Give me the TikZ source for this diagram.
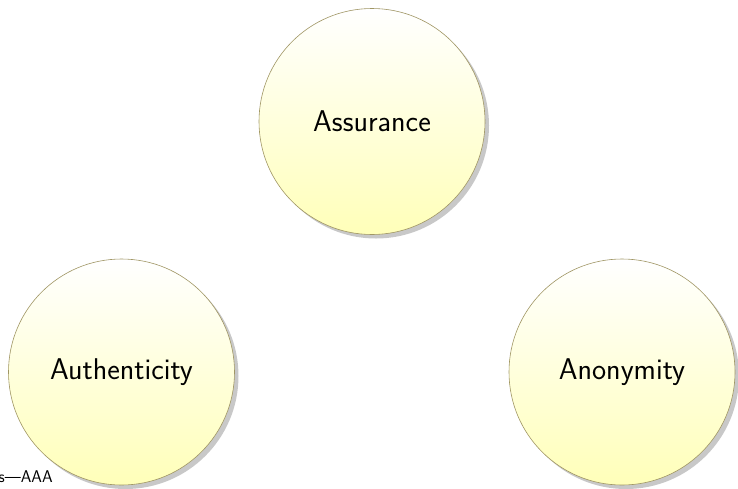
\documentclass[tikz,border=0pt]{standalone}
\usepackage{fontspec}
\usetikzlibrary{shadows}
\definecolor{circedge}{RGB}{160,150,100}
\definecolor{circbot}{RGB}{255,255,185}
\definecolor{shadowgray}{RGB}{200,200,200}
\tikzset{
  bubble/.style={circle, minimum size=226pt, inner sep=0pt,
    draw=circedge, line width=0.6pt,
    top color=white, bottom color=circbot,
    drop shadow={shadow xshift=4pt, shadow yshift=-4pt, fill=shadowgray, opacity=1},
    font=\sffamily\fontsize{30}{36}\selectfont},
  caption/.style={anchor=base west, inner sep=0pt, font=\sffamily\fontsize{17}{20}\selectfont}
}
\begin{document}
\begin{tikzpicture}[x=1pt,y=-1pt]
\useasboundingbox (0,0) rectangle (738,488);
\node[bubble] (assurance) at (372,121.5) {Assurance};
\node[bubble] (authenticity) at (121.5,372) {Authenticity};
\node[bubble] (anonymity) at (622,372) {Anonymity};
\node[caption] (title) at (-1.5,482) {s—AAA};
\end{tikzpicture}
\end{document}
